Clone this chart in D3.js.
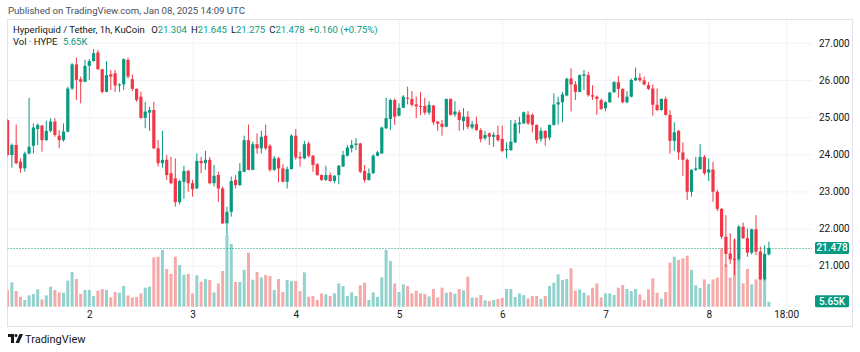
<!DOCTYPE html>
<html>
<head>
<meta charset="utf-8">
<script src="https://cdn.jsdelivr.net/npm/d3@7/dist/d3.min.js"></script>
<style>
  body { margin: 0; background: #fff; }
  svg { display: block; font-family: Roboto, "Liberation Sans", sans-serif; }
</style>
</head>
<body>
<svg id="chart" width="860" height="352"></svg>
<script>
// hourly candles HYPE/USDT, first one is Jan 01 05:00 UTC
const firstCandle = Date.UTC(2025, 0, 1, 5)

const opens = [24.92,23.98,24.25,23.80,23.62,24.02,24.23,24.68,24.77,24.38,24.63,24.88,24.50,24.38,24.61,25.77,26.42,26.02,25.95,26.38,
  26.51,26.74,26.29,25.68,26.15,26.18,25.85,25.88,26.54,26.02,25.76,25.55,24.98,25.12,25.19,24.16,23.76,23.85,23.49,23.35,
  22.71,23.26,23.55,23.22,23.08,23.82,23.76,23.85,23.22,23.44,23.08,22.14,22.45,23.31,23.17,23.53,24.38,23.58,24.27,24.16,
  24.50,24.23,23.58,23.89,23.62,23.26,23.60,24.50,23.93,23.89,24.29,23.96,23.73,23.44,23.31,23.44,23.28,23.44,23.67,23.96,
  24.16,24.25,24.29,23.55,23.31,23.49,23.96,24.02,24.70,24.95,25.46,25.04,25.25,25.52,25.49,25.34,25.30,25.30,25.12,25.31,
  24.88,24.82,24.74,25.49,25.07,25.13,24.89,25.01,24.72,24.81,24.65,24.43,24.56,24.47,24.52,24.41,24.11,24.11,24.32,24.81,
  24.83,25.07,25.06,24.79,24.41,24.63,24.45,24.79,25.34,25.40,25.58,26.04,25.88,25.68,26.11,26.13,25.59,25.55,25.46,25.24,
  25.40,25.67,25.94,25.76,25.40,25.55,25.99,26.06,25.99,25.86,25.77,25.33,25.19,25.49,25.06,24.36,24.63,24.05,23.85,22.99,
  23.58,23.60,23.93,23.51,23.59,22.99,22.53,21.78,21.33,21.18,21.17,22.05,21.74,21.35,21.98,21.38,20.63,21.304]
const highs = [24.95,24.29,24.80,23.89,24.07,25.52,24.83,24.83,24.79,24.90,24.97,24.97,24.65,24.83,25.82,26.45,26.60,26.09,26.54,26.56,
  26.83,26.81,26.29,26.51,26.27,26.27,25.91,26.58,26.60,26.15,25.77,25.68,25.41,25.28,25.41,24.38,24.63,23.98,23.93,23.89,
  23.31,23.69,23.58,23.31,24.02,23.93,24.09,23.93,23.71,23.53,23.13,22.59,23.40,23.44,23.76,24.50,24.80,24.34,24.56,24.63,
  24.80,24.27,23.95,23.93,23.73,23.67,24.54,24.68,24.07,24.36,24.34,23.98,23.76,23.46,23.69,23.51,23.44,23.71,24.09,24.25,
  24.38,24.43,24.31,23.71,23.62,24.00,24.09,24.74,25.52,25.50,25.50,25.37,25.59,25.82,25.70,25.55,25.67,25.52,25.43,25.33,
  24.90,24.92,25.49,25.50,25.43,25.19,25.24,25.16,24.90,25.01,24.70,24.63,24.59,24.59,24.77,24.77,24.32,24.92,24.92,25.01,
  25.15,25.16,25.10,24.80,24.72,24.65,24.80,25.64,25.55,25.68,26.06,26.31,25.97,26.15,26.27,26.22,25.86,25.58,25.50,25.43,
  25.68,25.97,26.11,25.77,25.70,26.04,26.33,26.18,26.09,25.94,25.88,25.77,25.50,25.55,25.19,24.86,24.65,24.32,23.89,23.60,
  23.93,24.27,23.98,23.89,23.80,23.04,22.55,22.36,21.87,21.73,22.10,22.16,22.00,22.00,22.36,21.51,21.55,21.645]
const lows = [23.93,23.64,23.73,23.50,23.53,24.00,24.02,24.25,24.07,24.36,24.59,24.47,24.16,24.34,24.59,25.73,25.46,25.37,25.94,26.00,
  26.49,26.27,25.64,25.67,25.73,25.68,25.68,25.73,26.04,25.70,25.41,24.95,24.70,24.63,24.14,23.67,23.64,23.31,23.19,22.59,
  22.65,22.80,22.99,22.86,23.06,23.49,23.58,23.19,23.13,22.72,22.12,21.83,22.32,23.08,23.15,23.51,23.57,23.57,24.02,24.02,
  24.11,23.53,23.55,23.24,23.24,23.08,23.59,23.85,23.67,23.87,23.91,23.53,23.42,23.28,23.28,23.26,23.22,23.19,23.66,23.94,
  24.05,24.11,23.49,23.24,23.29,23.47,23.94,24.01,24.68,24.65,24.79,25.02,25.24,25.34,25.28,24.97,25.06,25.06,25.06,24.79,
  24.63,24.50,24.73,25.04,25.01,24.63,24.65,24.68,24.68,24.63,24.32,24.38,24.25,24.20,24.34,24.05,23.89,24.09,24.30,24.56,
  24.81,24.79,24.59,24.29,24.34,24.23,24.38,24.77,24.80,24.86,25.56,25.15,25.46,25.67,25.73,25.55,25.46,25.06,25.19,25.16,
  25.38,25.65,25.52,25.37,25.37,25.53,25.97,25.95,25.85,25.73,25.04,25.16,25.17,25.04,24.02,24.09,23.85,23.42,22.77,22.86,
  23.55,23.59,23.44,23.28,22.72,22.47,21.72,20.97,21.05,20.75,21.13,21.72,21.24,21.30,21.29,20.62,20.60,21.275]
const closes = [23.98,24.25,23.76,23.62,24.02,24.20,24.72,24.79,24.38,24.63,24.88,24.52,24.38,24.61,25.77,26.42,26.00,25.95,26.38,26.51,
  26.72,26.29,25.68,26.13,26.09,25.85,25.88,26.56,26.09,25.76,25.46,24.98,25.15,25.19,24.16,23.76,23.85,23.44,23.22,22.71,
  23.28,23.55,23.22,23.06,23.82,23.76,23.85,23.22,23.42,23.08,22.14,22.45,23.28,23.17,23.55,24.38,23.58,24.27,24.16,24.47,
  24.16,23.58,23.89,23.62,23.26,23.60,24.50,23.91,23.89,24.27,23.96,23.71,23.44,23.31,23.44,23.28,23.42,23.69,23.98,24.18,
  24.25,24.29,23.53,23.31,23.49,23.96,24.05,24.72,24.97,25.46,25.01,25.25,25.55,25.49,25.33,25.29,25.28,25.12,25.33,24.86,
  24.82,24.74,25.49,25.06,25.15,24.92,25.01,24.74,24.81,24.65,24.41,24.52,24.47,24.52,24.38,24.09,24.14,24.34,24.83,24.85,
  25.13,24.83,24.79,24.38,24.63,24.43,24.79,25.34,25.40,25.61,26.03,25.88,25.68,26.13,26.15,25.59,25.55,25.49,25.22,25.40,
  25.66,25.94,25.76,25.40,25.55,26.00,26.06,25.99,25.88,25.76,25.33,25.19,25.49,25.06,24.36,24.59,24.05,23.85,22.99,23.58,
  23.62,23.93,23.49,23.59,22.99,22.53,21.78,21.32,21.17,21.16,22.05,21.74,21.35,21.98,21.38,20.63,21.318,21.478]
// volume in thousands of HYPE
const volumes = [18.9,27.5,17.7,11.3,7.6,12.8,14.4,19.5,8.2,12.8,22.6,18.9,16.2,15.8,29.4,39.2,31.3,14.4,18.9,18.9,
  12.1,18.1,20.0,18.9,10.5,16.6,15.8,23.4,12.8,10.5,11.0,15.0,21.5,22.6,55.7,56.5,64.1,42.6,37.0,56.5,
  47.1,36.2,37.0,15.0,35.4,28.3,31.3,30.2,16.2,26.3,40.3,81.0,70.9,27.9,27.9,41.5,61.0,30.5,39.2,33.1,
  35.8,34.7,18.9,31.3,16.6,30.2,29.0,29.0,17.7,38.8,11.3,12.1,7.6,15.0,13.9,12.1,15.0,26.3,23.4,12.1,
  16.2,12.1,24.1,27.1,7.6,16.2,11.0,33.1,64.1,51.6,26.3,16.6,25.2,23.4,15.0,18.1,15.0,14.4,11.6,20.0,
  10.5,21.5,15.8,16.6,14.7,20.0,18.4,33.9,10.5,10.2,13.2,7.1,6.4,7.6,8.7,9.8,20.0,20.0,11.0,15.0,
  13.2,9.4,12.1,12.1,8.7,12.1,23.4,27.1,36.5,30.2,31.3,43.3,18.1,19.5,15.8,12.8,21.5,26.3,10.5,15.0,
  15.0,13.2,21.5,24.5,20.0,17.7,20.0,13.9,7.6,19.5,32.0,15.8,9.0,16.6,49.7,56.5,52.8,54.6,57.6,41.5,
  24.1,21.1,30.8,25.7,30.8,32.8,65.9,47.8,32.8,76.0,52.8,26.3,42.9,25.2,30.8,30.8,30.8,5.65]

const priceTicks = [21, 22, 23, 24, 25, 26, 27]
const timeTicks = [
  Date.UTC(2025, 0, 2), Date.UTC(2025, 0, 3), Date.UTC(2025, 0, 4), Date.UTC(2025, 0, 5),
  Date.UTC(2025, 0, 6), Date.UTC(2025, 0, 7), Date.UTC(2025, 0, 8), Date.UTC(2025, 0, 8, 18)
]

const upColor = "#089981"
const downColor = "#f23645"
const textColor = "#131722"

const candles = closes.map((c, i) => ({
  t: new Date(firstCandle + i * 3600e3),
  o: opens[i], h: highs[i], l: lows[i], c: c, v: volumes[i]
}))
const last = candles[candles.length - 1]

const svg = d3.select("#chart")
const plot = { left: 7.5, right: 812, top: 20, bottom: 309 }

const x = d3.scaleUtc()
  .domain([new Date(Date.UTC(2025, 0, 2)), new Date(Date.UTC(2025, 0, 8))])
  .range([89.3, 708.7])
const y = d3.scaleLinear().domain([21, 27]).range([265.7, 42.8])
const yVol = d3.scaleLinear().domain([0, 81]).range([306.7, 235])

// header
svg.append("text")
  .attr("x", 8).attr("y", 14)
  .attr("font-size", 9.6).attr("fill", "#4a4e59")
  .text("Published on TradingView.com, Jan 08, 2025 14:09 UTC")

// frame
svg.append("rect")
  .attr("x", 7.5).attr("y", 19.5).attr("width", 845).attr("height", 307)
  .attr("fill", "none").attr("stroke", "#e0e3eb")

svg.append("defs").append("clipPath").attr("id", "plotclip")
  .append("rect")
  .attr("x", plot.left).attr("y", plot.top)
  .attr("width", plot.right - plot.left).attr("height", plot.bottom - plot.top)

// grid
const grid = svg.append("g").attr("clip-path", "url(#plotclip)")
grid.append("g")
  .attr("transform", `translate(0,${plot.top})`)
  .call(d3.axisBottom(x).tickValues(timeTicks.map(d => new Date(d)))
    .tickSize(plot.bottom - plot.top).tickFormat(""))
  .call(g => g.select(".domain").remove())
  .call(g => g.selectAll("line").attr("stroke", "#f0f3fa"))
grid.append("g")
  .attr("transform", `translate(${plot.left},0)`)
  .call(d3.axisRight(y).tickValues(priceTicks)
    .tickSize(plot.right - plot.left).tickFormat(""))
  .call(g => g.select(".domain").remove())
  .call(g => g.selectAll("line").attr("stroke", "#f0f3fa"))

const marks = svg.append("g").attr("clip-path", "url(#plotclip)")

// volume
marks.append("g").selectAll("rect")
  .data(candles)
  .join("rect")
  .attr("x", d => x(d.t) - 1.5)
  .attr("width", 3)
  .attr("y", d => yVol(d.v))
  .attr("height", d => yVol(0) - yVol(d.v))
  .attr("fill", d => d.c >= d.o ? "#92d2cc" : "#f7a9a9")

// price line
marks.append("line")
  .attr("x1", plot.left).attr("x2", plot.right)
  .attr("y1", Math.round(y(last.c)) + 0.5).attr("y2", Math.round(y(last.c)) + 0.5)
  .attr("stroke", upColor).attr("stroke-dasharray", "1,2")

// candles
const candle = marks.append("g").selectAll("g")
  .data(candles)
  .join("g")
  .attr("fill", d => d.c >= d.o ? upColor : downColor)
  .attr("stroke", d => d.c >= d.o ? upColor : downColor)

candle.append("line")
  .attr("x1", d => x(d.t)).attr("x2", d => x(d.t))
  .attr("y1", d => y(d.h)).attr("y2", d => y(d.l))
  .attr("stroke-width", 1)

candle.append("rect")
  .attr("stroke", "none")
  .attr("x", d => x(d.t) - 1.6)
  .attr("width", 3.2)
  .attr("y", d => y(Math.max(d.o, d.c)))
  .attr("height", d => Math.max(1, Math.abs(y(d.o) - y(d.c))))

// time axis
svg.append("g")
  .attr("transform", "translate(0,311)")
  .call(d3.axisBottom(x).tickValues(timeTicks.map(d => new Date(d)))
    .tickSize(0).tickPadding(0)
    .tickFormat(d => d.getUTCHours() === 0 ? d3.utcFormat("%-d")(d) : d3.utcFormat("%H:%M")(d)))
  .call(g => g.select(".domain").remove())
  .call(g => g.selectAll("text").attr("font-size", 10).attr("fill", textColor)
    .attr("font-family", "Roboto, sans-serif"))

// price axis
svg.append("g")
  .attr("transform", "translate(819,0)")
  .call(d3.axisRight(y).tickValues(priceTicks).tickSize(0).tickPadding(0)
    .tickFormat(d3.format(".3f")))
  .call(g => g.select(".domain").remove())
  .call(g => g.selectAll("text").attr("font-size", 10).attr("fill", textColor)
    .attr("font-family", "Roboto, sans-serif"))

// last value labels
function badge(yPos, label) {
  svg.append("rect")
    .attr("x", 815).attr("y", yPos - 6).attr("width", 34).attr("height", 12)
    .attr("rx", 1.5).attr("fill", upColor)
  svg.append("text")
    .attr("x", 832).attr("y", yPos).attr("dy", "0.35em")
    .attr("text-anchor", "middle").attr("font-size", 10).attr("fill", "#fff")
    .attr("font-weight", 500)
    .text(label)
}
badge(y(last.c), d3.format(".3f")(last.c))
badge(yVol(last.v) - 0.5, last.v + "K")

// legend
const fmt = d3.format(".3f")
const chg = last.c - closes[closes.length - 2]
const legend = svg.append("text").attr("x", 13).attr("y", 33).attr("font-size", 9.5)
legend.append("tspan").attr("fill", textColor).text("Hyperliquid / Tether, 1h, KuCoin ")
const ohlc = [["O", last.o], ["H", last.h], ["L", last.l], ["C", last.c]]
ohlc.forEach(([k, v]) => {
  legend.append("tspan").attr("fill", textColor).attr("dx", 4).text(k)
  legend.append("tspan").attr("fill", upColor).text(fmt(v))
})
legend.append("tspan").attr("fill", upColor).attr("dx", 4)
  .text(`+${fmt(chg)} (+${(chg / closes[closes.length - 2] * 100).toFixed(2)}%)`)

const vol = svg.append("text").attr("x", 13).attr("y", 45).attr("font-size", 9.5)
vol.append("tspan").attr("fill", textColor).text("Vol · HYPE ")
vol.append("tspan").attr("fill", upColor).attr("dx", 3).text(last.v + "K")

// tradingview logo
const logo = svg.append("g").attr("transform", "translate(8,334)").attr("fill", textColor)
logo.append("path").attr("d", "M0 0h6v9h-3v-6h-3z")
logo.append("circle").attr("cx", 8).attr("cy", 1.5).attr("r", 1.5)
logo.append("path").attr("d", "M11.5 0h3.5l-4 9h-3.5z")
svg.append("text")
  .attr("x", 25).attr("y", 343).attr("font-size", 11).attr("fill", textColor)
  .text("TradingView")
</script>
</body>
</html>
